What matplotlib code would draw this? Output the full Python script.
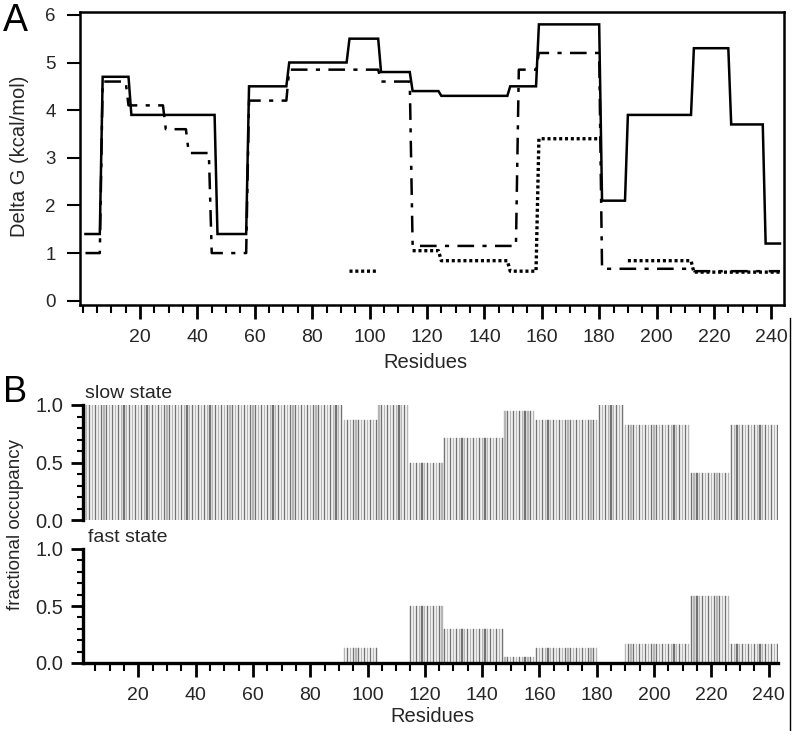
import numpy as np
import matplotlib
matplotlib.use('Agg')
import matplotlib.pyplot as plt
from matplotlib.lines import Line2D
from matplotlib.ticker import MultipleLocator

plt.rcParams['font.family'] = ['Liberation Sans', 'DejaVu Sans']
plt.rcParams['lines.scale_dashes'] = False

last_residue = 243
nan = np.nan

# Panel A: Delta G per residue, stored as (first residue of segment, value)
solid_starts = [1, 7, 17, 47, 58, 72, 93, 104, 115, 125, 149, 159, 181, 190, 213, 226, 238]
solid_vals = [1.4, 4.7, 3.9, 1.4, 4.5, 5.0, 5.5, 4.8, 4.4, 4.3, 4.5, 5.8, 2.1, 3.9, 5.3, 3.7, 1.2]

dashdot_starts = [1, 7, 16, 29, 37, 45, 58, 72, 104, 115, 152, 159, 181, 213]
dashdot_vals = [1.0, 4.6, 4.1, 3.6, 3.1, 1.0, 4.2, 4.85, 4.6, 1.15, 4.85, 5.2, 0.67, 0.62]

dotted_starts = [1, 93, 104, 115, 125, 149, 159, 181, 190, 213]
dotted_vals = [nan, 0.62, nan, 1.05, 0.84, 0.62, 3.4, nan, 0.84, 0.6]

# Panel B: fractional occupancy
occ_starts = [1, 92, 104, 115, 127, 148, 159, 181, 190, 213, 227]
slow_vals = [1.0, 0.87, 1.0, 0.5, 0.71, 0.95, 0.87, 1.0, 0.83, 0.41, 0.83]
fast_vals = [0.0, 0.13, 0.0, 0.5, 0.30, 0.05, 0.13, 0.0, 0.17, 0.59, 0.17]


def expand(starts, vals, last):
    out = np.full(last + 1, np.nan)
    ends = starts[1:] + [last + 1]
    for s, e, v in zip(starts, ends, vals):
        out[s:e] = v
    return out[1:]


residues = np.arange(1, last_residue + 1)
solid = expand(solid_starts, solid_vals, last_residue)
dashdot = expand(dashdot_starts, dashdot_vals, last_residue)
dotted = expand(dotted_starts, dotted_vals, last_residue)
slow = expand(occ_starts, slow_vals, last_residue)
fast = expand(occ_starts, fast_vals, last_residue)

W, H = 793, 731
fig = plt.figure(figsize=(W / 100, H / 100), dpi=100)


def box(left, top, right, bottom):
    return [left / W, 1 - bottom / H, (right - left) / W, (bottom - top) / H]


text_col = '#262626'

def style_xaxis(ax):
    ax.xaxis.set_minor_locator(MultipleLocator(5))
    ax.set_xticks(np.arange(20, 241, 20))
    ax.tick_params(axis='x', which='major', direction='out', length=10, width=2.0,
                   labelsize=14, pad=7, colors='k', labelcolor=text_col)
    ax.tick_params(axis='x', which='minor', direction='out', length=5.8, width=1.5, colors='k')


# ---- panel A
axA = fig.add_axes(box(80, 12, 784, 305))
axA.plot(residues, solid, color='k', lw=1.8, solid_joinstyle='miter')
axA.plot(residues, dashdot, color='k', lw=1.8, dashes=(12, 6, 3, 6))
axA.plot(residues, dotted, color='k', lw=2.4, dashes=(2.2, 2.0), dash_capstyle='butt')
axA.set_xlim(-0.9, 244.4)
axA.set_ylim(-0.09, 6.06)
axA.set_yticks(range(0, 7))
axA.tick_params(axis='y', direction='out', length=9.4, width=1.5, labelsize=13.5, pad=8,
                labelcolor=text_col)
style_xaxis(axA)
for sp in axA.spines.values():
    sp.set_linewidth(1.8)

# ---- panel B
bar_colors = ['#727272' if i % 2 == 0 else '#b6b6b6' for i in range(len(residues))]

axS = fig.add_axes(box(82.5, 405, 778, 520))
axS.bar(residues, slow, width=0.4, color=bar_colors, edgecolor=bar_colors, linewidth=0.3)
axS.set_xlim(0.5, 243.3)
axS.set_ylim(0, 1.0)
for name in ['top', 'right', 'bottom']:
    axS.spines[name].set_visible(False)
axS.spines['left'].set_linewidth(2.4)
axS.set_xticks([])

axF = fig.add_axes(box(82.5, 549, 778, 663))
axF.bar(residues, fast, width=0.4, color=bar_colors, edgecolor=bar_colors, linewidth=0.3)
axF.set_xlim(0.5, 243.3)
axF.set_ylim(0, 1.0)
for name in ['top', 'right']:
    axF.spines[name].set_visible(False)
axF.spines['left'].set_linewidth(2.4)
axF.spines['bottom'].set_linewidth(2.4)
style_xaxis(axF)

for ax in [axS, axF]:
    ax.set_yticks([0, 0.5, 1.0])
    ax.set_yticklabels(['0.0', '0.5', '1.0'])
    ax.yaxis.set_minor_locator(MultipleLocator(0.1))
    ax.tick_params(axis='y', which='major', direction='out', length=8.6, width=2.0,
                   labelsize=14.5, pad=5, labelcolor=text_col)
    ax.tick_params(axis='y', which='minor', direction='out', length=4.3, width=1.5)

axS.text(0.004, 1.025, 'slow state', transform=axS.transAxes, fontsize=14,
         color=text_col, ha='left', va='bottom')
axF.text(0.008, 1.03, 'fast state', transform=axF.transAxes, fontsize=14,
         color=text_col, ha='left', va='bottom')

# labels placed in figure coords
fig.text(20 / W, 1 - 156 / H, 'Delta G (kcal/mol)', rotation=90, ha='center', va='center',
         fontsize=14.5, color=text_col)
fig.text(16 / W, 1 - 524 / H, 'fractional occupancy', rotation=90, ha='center', va='center',
         fontsize=13.5, color=text_col)
fig.text(425 / W, 1 - 362 / H, 'Residues', ha='center', va='center', fontsize=14.5, color=text_col)
fig.text(432 / W, 1 - 716 / H, 'Residues', ha='center', va='center', fontsize=14.5, color=text_col)
fig.text(3 / W, 1 - 3 / H, 'A', ha='left', va='top', fontsize=27, color='k')
fig.text(3 / W, 1 - 375 / H, 'B', ha='left', va='top', fontsize=26, color='k')

# thin border on the right side of the lower part
fig.add_artist(Line2D([789.5 / W, 789.5 / W], [0, 1 - 318 / H], transform=fig.transFigure,
                      color='k', lw=1.0))

fig.savefig('out.png', dpi=100)
